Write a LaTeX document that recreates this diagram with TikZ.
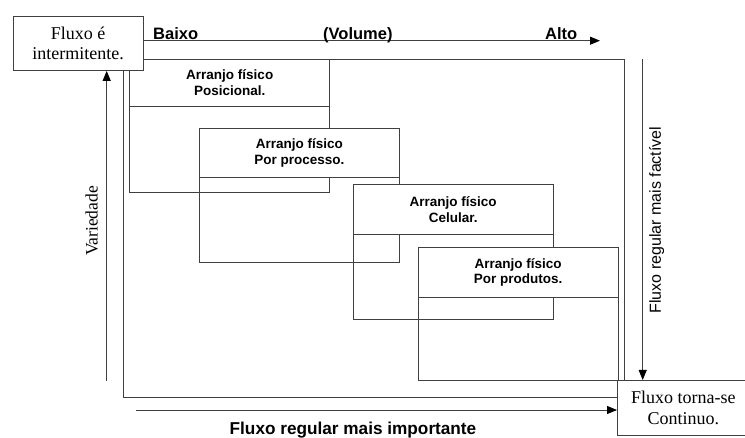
\documentclass[tikz,border=0pt]{standalone}
\usepackage{fontspec}
\setmainfont{Liberation Serif}
\newfontfamily\arialfont{Liberation Sans}
\usetikzlibrary{arrows.meta}
\begin{document}
\begin{tikzpicture}[x=1pt,y=-1pt,
  ln/.style={draw=black!75, line width=0.9pt},
  arr/.style={ln, -{Triangle[length=10pt,width=8pt,fill=black,color=black]}},
  corner/.style={ln, fill=white, align=center, inner sep=0pt,
    font=\fontsize{18}{20.5}\selectfont, anchor=north west},
  body/.style={ln, inner sep=0pt, anchor=north west, minimum width=200pt, minimum height=133.5pt},
  head/.style={ln, fill=white, inner sep=0pt, align=center, anchor=north west,
    minimum width=200pt, font=\arialfont\bfseries\fontsize{13.5}{15.5}\selectfont},
  axis/.style={font=\arialfont\bfseries\fontsize{16.5}{18}\selectfont, inner sep=0pt},
]
\useasboundingbox (0,0) rectangle (745,438);

% big frame
\node[ln, inner sep=0pt, anchor=north west, minimum width=501.3pt, minimum height=338.3pt] (frame) at (122.7,58.7) {};

% layout boxes
\node[body] (b1) at (129.3,58.7) {};
\node[head, minimum height=47.3pt] (h1) at (b1.north west) {Arranjo físico\\Posicional.};
\node[body] (b2) at (199,128.3) {};
\node[head, minimum height=48.7pt] (h2) at (b2.north west) {Arranjo físico\\Por processo.};
\node[body, minimum height=134.4pt] (b3) at (352.7,184.3) {};
\node[head, minimum height=50pt] (h3) at (b3.north west) {Arranjo físico\\Celular.};
\node[body, minimum height=133.3pt] (b4) at (417.7,246.7) {};
\node[head, minimum height=50.6pt] (h4) at (b4.north west) {Arranjo físico\\Por produtos.};

% corner boxes
\node[corner, minimum width=130pt, minimum height=54pt] (tl) at (12.7,16) {Fluxo é\\intermitente.};
\node[corner, minimum width=132pt, minimum height=55pt] (br) at (617,380) {Fluxo torna-se\\Continuo.};

% arrows
\coordinate (topend) at (600,40.7);
\draw[arr] (tl.east |- topend) -- (topend);
\coordinate (vstart) at (106.7,381);
\draw[arr] (vstart) -- (vstart |- tl.south);
\coordinate (rstart) at (642.7,58.7);
\draw[arr] (rstart) -- (rstart |- br.north);
\coordinate (bstart) at (136,410);
\draw[arr] (bstart) -- (bstart -| br.west);

% labels
\node[axis, anchor=base west] (baixo) at (153,40) {Baixo};
\node[axis, anchor=base west] (volume) at (323,40) {(Volume)};
\node[axis, anchor=base west] (alto) at (545,40) {Alto};
\node[axis, anchor=base, font=\arialfont\bfseries\fontsize{17.2}{19}\selectfont] (imp) at (353,435) {Fluxo regular mais importante};
\node[rotate=90, inner sep=0pt, font=\fontsize{17.5}{20}\selectfont] (var) at (91.7,221) {Variedade};
\node[rotate=90, inner sep=0pt, font=\arialfont\fontsize{16}{18}\selectfont] (fact) at (656.7,220) {Fluxo regular mais factível};
\end{tikzpicture}
\end{document}
